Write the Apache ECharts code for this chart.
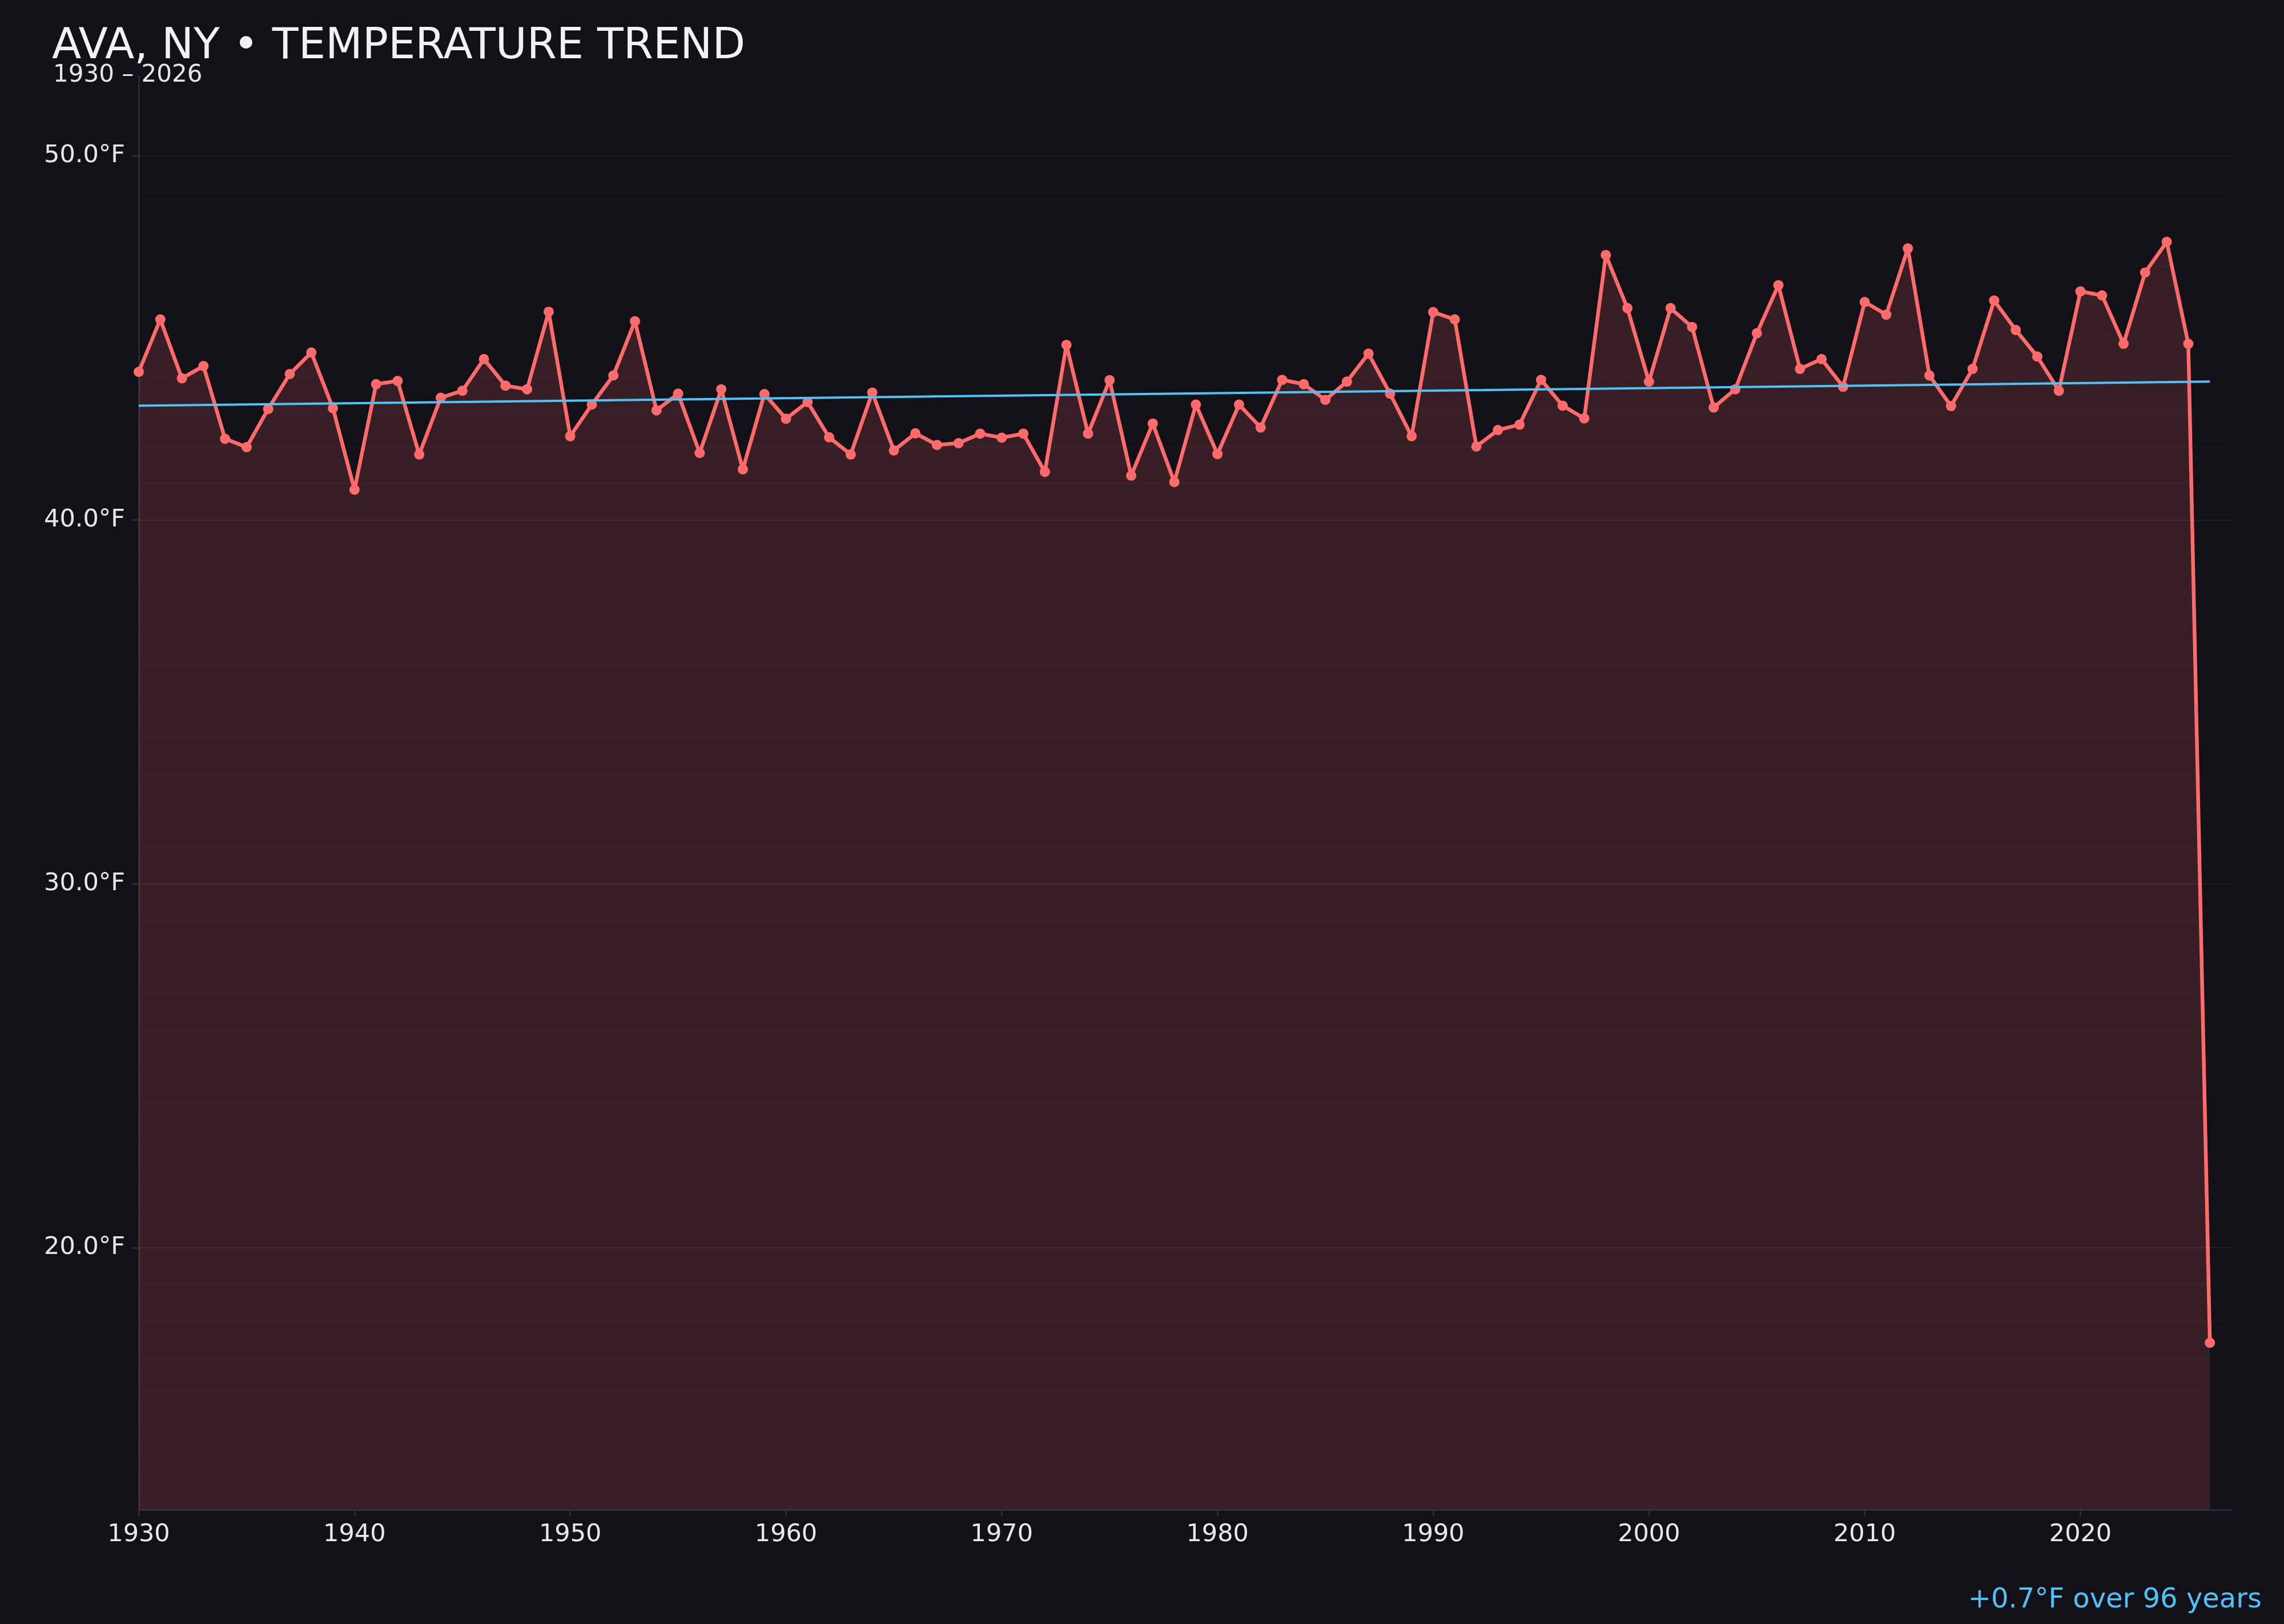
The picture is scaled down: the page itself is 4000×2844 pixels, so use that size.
<!DOCTYPE html>
<html>
<head>
<meta charset="utf-8">
<title>Ava, NY temperature trend</title>
<script src="https://cdn.jsdelivr.net/npm/echarts@6/dist/echarts.min.js"></script>
<style>
  html, body { margin: 0; padding: 0; background: #121118; }
  #chart { width: 4000px; height: 2844px; }
</style>
</head>
<body>
<div id="chart"></div>
<script>
// yearly mean temperature
const years = [
  1930, 1931, 1932, 1933, 1934, 1935, 1936, 1937, 1938, 1939,
  1940, 1941, 1942, 1943, 1944, 1945, 1946, 1947, 1948, 1949,
  1950, 1951, 1952, 1953, 1954, 1955, 1956, 1957, 1958, 1959,
  1960, 1961, 1962, 1963, 1964, 1965, 1966, 1967, 1968, 1969,
  1970, 1971, 1972, 1973, 1974, 1975, 1976, 1977, 1978, 1979,
  1980, 1981, 1982, 1983, 1984, 1985, 1986, 1987, 1988, 1989,
  1990, 1991, 1992, 1993, 1994, 1995, 1996, 1997, 1998, 1999,
  2000, 2001, 2002, 2003, 2004, 2005, 2006, 2007, 2008, 2009,
  2010, 2011, 2012, 2013, 2014, 2015, 2016, 2017, 2018, 2019,
  2020, 2021, 2022, 2023, 2024, 2025, 2026
];
const temps = [
  44.07, 45.51, 43.89, 44.23, 42.23, 42.00, 43.05, 44.01, 44.60, 43.07,
  40.83, 43.73, 43.82, 41.80, 43.36, 43.55, 44.42, 43.69, 43.59, 45.72,
  42.30, 43.17, 43.97, 45.46, 43.01, 43.47, 41.84, 43.59, 41.39, 43.46,
  42.78, 43.24, 42.27, 41.80, 43.50, 41.91, 42.38, 42.06, 42.11, 42.37,
  42.26, 42.37, 41.32, 44.81, 42.37, 43.84, 41.22, 42.65, 41.04, 43.17,
  41.81, 43.17, 42.54, 43.85, 43.73, 43.30, 43.80, 44.57, 43.47, 42.30,
  45.71, 45.51, 42.02, 42.47, 42.62, 43.85, 43.14, 42.79, 47.28, 45.82,
  43.80, 45.82, 45.30, 43.09, 43.59, 45.13, 46.45, 44.15, 44.42, 43.66,
  45.99, 45.64, 47.46, 43.97, 43.13, 44.15, 46.03, 45.22, 44.49, 43.55,
  46.28, 46.17, 44.84, 46.80, 47.64, 44.84, 17.39
];
// linear trend end points
const trendYears = [1930, 2026];
const trendTemps = [43.14, 43.80];

const xTickLabels = [1930, 1940, 1950, 1960, 1970, 1980, 1990, 2000, 2010, 2020];
const yTickLabels = [20, 30, 40, 50];

const chart = echarts.init(document.getElementById('chart'));

const FONT = 'DejaVu Sans';
const BG = '#121118';
const RED = '#ff6b6b';
const BLUE = '#4fc3f7';
const AXIS = '#2c2b35';

// faint horizontal guides every 1°F, a bit brighter on the labelled ones
const guideLines = [];
for (let v = 13; v <= 52; v++) {
  guideLines.push({
    yAxis: v,
    lineStyle: {
      color: v % 10 === 0 ? 'rgba(255,255,255,0.06)' : 'rgba(255,255,255,0.014)',
      width: 2,
      type: 'solid'
    }
  });
}

chart.setOption({
  backgroundColor: BG,
  animation: false,
  textStyle: { fontFamily: FONT },
  title: [
    {
      text: 'AVA, NY • TEMPERATURE TREND',
      left: 86,
      top: 40,
      textStyle: { color: '#f2f2f6', fontSize: 75, fontWeight: 'normal', fontFamily: FONT }
    },
    {
      text: '1930 – 2026',
      left: 88,
      top: 106,
      textStyle: { color: '#e6e6ea', fontSize: 42, fontWeight: 'normal', fontFamily: FONT }
    },
    {
      text: '+0.7°F over 96 years',
      right: 34,
      top: 2774,
      textStyle: { color: BLUE, fontSize: 48, fontWeight: 'normal', fontFamily: FONT }
    }
  ],
  grid: {
    left: 243,
    right: 92,
    top: 133,
    bottom: 200
  },
  xAxis: {
    type: 'value',
    min: 1930,
    max: 2027,
    interval: 10,
    axisLine: { show: true, lineStyle: { color: AXIS, width: 3 } },
    axisTick: { show: true, length: 11, lineStyle: { color: AXIS, width: 3 }, customValues: xTickLabels },
    axisLabel: {
      customValues: xTickLabels,
      color: '#e8e8ec',
      fontSize: 43,
      margin: 22,
      formatter: v => String(v)
    },
    splitLine: { show: false }
  },
  yAxis: {
    type: 'value',
    min: 12.8,
    max: 52.2,
    axisLine: { show: true, lineStyle: { color: AXIS, width: 3 } },
    axisTick: { show: true, length: 12, lineStyle: { color: AXIS, width: 3 }, customValues: yTickLabels },
    axisLabel: {
      customValues: yTickLabels,
      color: '#e8e8ec',
      fontSize: 43,
      margin: 24,
      formatter: v => v.toFixed(1) + '°F'
    },
    splitLine: { show: false }
  },
  series: [
    {
      name: 'guides',
      type: 'line',
      data: [],
      silent: true,
      z: 1,
      markLine: {
        silent: true,
        symbol: 'none',
        label: { show: false },
        data: guideLines
      }
    },
    {
      name: 'Annual mean',
      type: 'line',
      z: 3,
      data: years.map((y, i) => [y, temps[i]]),
      symbol: 'circle',
      symbolSize: 18,
      itemStyle: { color: RED },
      lineStyle: { color: RED, width: 6.5 },
      areaStyle: { color: RED, opacity: 0.155, origin: 'start' }
    },
    {
      name: 'Trend',
      type: 'line',
      z: 4,
      data: trendYears.map((y, i) => [y, trendTemps[i]]),
      symbol: 'none',
      lineStyle: { color: BLUE, width: 4 }
    }
  ]
});
</script>
</body>
</html>
